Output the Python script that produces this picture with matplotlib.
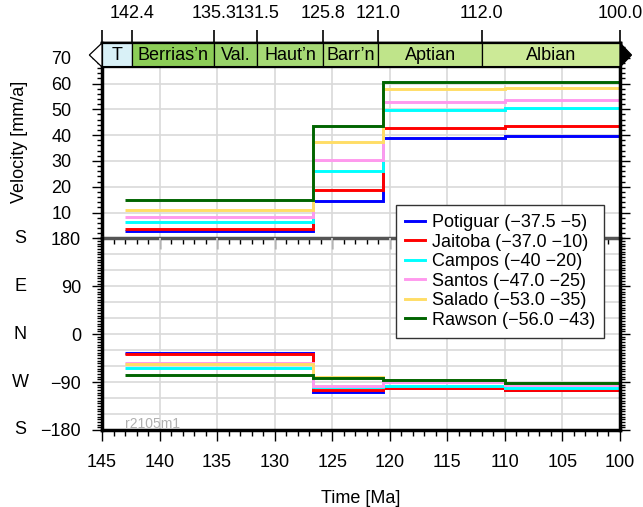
import matplotlib
matplotlib.use("Agg")
import matplotlib.pyplot as plt
from matplotlib.patches import Rectangle, Polygon
from matplotlib.lines import Line2D
from matplotlib.ticker import MultipleLocator
from matplotlib.transforms import blended_transform_factory

plt.rcParams['font.family'] = ['Liberation Sans', 'DejaVu Sans']
plt.rcParams['font.size'] = 13

# intervalos de tiempo (Ma) de cada tramo
times = [143.0, 126.7, 120.6, 110.0, 100.0]

basins = ['Potiguar (\u221237.5 \u22125)', 'Jaitoba (\u221237.0 \u221210)', 'Campos (\u221240 \u221220)',
          'Santos (\u221247.0 \u221225)', 'Salado (\u221253.0 \u221235)', 'Rawson (\u221256.0 \u221243)']
colors = ['#0000ff', '#ff0000', '#00ffff', '#ff99ee', '#ffdd66', '#006400']

# velocidad [mm/a] por tramo
vel_potiguar = [2.8, 14.5, 38.8, 39.5]
vel_jaitoba = [3.6, 18.7, 42.9, 43.4]
vel_campos = [6.3, 26.2, 49.8, 50.4]
vel_santos = [8.4, 30.2, 52.9, 53.5]
vel_salado = [10.9, 37.3, 57.9, 58.1]
vel_rawson = [14.7, 43.5, 60.5, 60.6]

# azimut [grados] por tramo
az_potiguar = [-36.0, -109.5, -102.0, -105.5]
az_jaitoba = [-36.5, -104.5, -102.0, -105.7]
az_campos = [-63.0, -98.5, -96.5, -100.5]
az_santos = [-55.0, -96.5, -90.7, -95.6]
az_salado = [-55.5, -80.0, -86.0, -91.0]
az_rawson = [-76.0, -83.0, -85.7, -90.8]

velocities = [vel_potiguar, vel_jaitoba, vel_campos, vel_santos, vel_salado, vel_rawson]
azimuths = [az_potiguar, az_jaitoba, az_campos, az_santos, az_salado, az_rawson]

# escala geologica
stage_bounds = [145.0, 142.4, 135.3, 131.5, 125.8, 121.0, 112.0, 100.0]
stage_names = ['T', 'Berrias\u2019n', 'Val.', 'Haut\u2019n', 'Barr\u2019n', 'Aptian', 'Albian']
stage_colors = ['#d9f1f7', '#8ccd57', '#99d36a', '#a6d975', '#b3df7f', '#bfe48a', '#ccea97']

fig = plt.figure(figsize=(6.43, 5.07), dpi=100)
W, H = 643, 507
left, right = 102 / W, 620 / W
ax1 = fig.add_axes([left, 1 - 238.3 / H, right - left, (238.3 - 43) / H])
ax2 = fig.add_axes([left, 1 - 430 / H, right - left, (430 - 238.3) / H])
ax2.patch.set_alpha(0)

grid_c = '#d9d9d9'
for ax in (ax1, ax2):
    ax.set_xlim(145, 100)
    ax.xaxis.set_major_locator(MultipleLocator(5))
    ax.xaxis.set_minor_locator(MultipleLocator(1))
    ax.grid(axis='x', color=grid_c, lw=1.2)
    ax.tick_params(which='both', direction='out', right=True, top=False, width=1)
    ax.tick_params(axis='x', which='major', length=8)
    ax.tick_params(axis='x', which='minor', length=4.5)
    ax.tick_params(axis='y', which='major', length=7)
    ax.tick_params(axis='y', which='minor', length=3.5)
    for s in ('left', 'right', 'bottom'):
        ax.spines[s].set_linewidth(2.5)
    ax.set_axisbelow(True)

# panel de velocidad
for vals, c in zip(velocities, colors):
    ax1.stairs(vals, times, color=c, lw=2.1, baseline=None)
ax1.set_ylim(0, 75.7)
ax1.yaxis.set_minor_locator(MultipleLocator(2))
ax1.set_yticks([10, 20, 30, 40, 50, 60, 70])
ax1.tick_params(axis='y', pad=15)
ax1.grid(axis='y', color=grid_c, lw=1.2)
ax1.tick_params(axis='x', labelbottom=False)
ax1.spines['bottom'].set_color('#555555')
ax1.spines['top'].set_linewidth(2.5)

# barra de edades
tr = blended_transform_factory(ax1.transData, ax1.transAxes)
y0 = (238.3 - 67) / (238.3 - 43)
for i, name in enumerate(stage_names):
    a, b = stage_bounds[i], stage_bounds[i + 1]
    ax1.add_patch(Rectangle((a, y0), b - a, 1 - y0, transform=tr, facecolor=stage_colors[i],
                            edgecolor='black', lw=0.9, zorder=5, clip_on=False))
    ax1.text((a + b) / 2, (y0 + 1) / 2, name, transform=tr, ha='center', va='center',
             fontsize=13, zorder=6)
ax1.plot([145, 100], [y0, y0], transform=tr, color='black', lw=1.5, zorder=6, clip_on=False)
ax1.add_patch(Polygon([[145, y0], [145, 1], [146.1, (y0 + 1) / 2]], closed=True, transform=tr,
                      facecolor='white', edgecolor='black', lw=0.9, zorder=6, clip_on=False))
ax1.add_patch(Polygon([[100, y0], [100, 1], [99.0, (y0 + 1) / 2]], closed=True, transform=tr,
                      facecolor='black', edgecolor='black', lw=0.9, zorder=6, clip_on=False))

sec = ax1.secondary_xaxis('top')
sec.set_xticks(stage_bounds, labels=[''] + ['%.1f' % b for b in stage_bounds[1:]])
sec.tick_params(direction='out', length=9.5, width=1.2, pad=5.5, labelsize=13)
sec.xaxis.set_minor_locator(plt.NullLocator())
sec.spines['top'].set_linewidth(2.5)

# panel de azimut
for vals, c in zip(azimuths, colors):
    ax2.stairs(vals, times, color=c, lw=2.1, baseline=None)
ax2.set_ylim(-180, 180)
ax2.set_yticks([-180, -90, 0, 90, 180])
ax2.yaxis.set_minor_locator(MultipleLocator(5))
ax2.tick_params(axis='y', pad=8)
for v in range(-150, 180, 30):
    ax2.axhline(v, color=grid_c, lw=1.2, zorder=0)
ax2.spines['top'].set_visible(False)
ax2.set_xlabel('Time [Ma]', labelpad=14)
ax2.tick_params(axis='x', pad=9)
ax2.text(0.044, -0.005, 'r2105m1', transform=ax2.transAxes, fontsize=10, color='#b0b0b0',
         ha='left', va='bottom')

trl = blended_transform_factory(fig.transFigure, ax2.transData)
for v, d in zip([180, 90, 0, -90, -180], ['S', 'E', 'N', 'W', 'S']):
    ax2.text(20 / W, v, d, transform=trl, ha='center', va='center', fontsize=13)

fig.text(20 / W, 1 - 141.5 / H, 'Velocity [mm/a]', rotation=90, ha='center', va='center', fontsize=13)

handles = [Line2D([], [], color=c, lw=2.1) for c in colors]
leg = fig.legend(handles, basins, loc='upper left', bbox_to_anchor=(396 / W, 1 - 205 / H),
                 borderaxespad=0, fancybox=False, framealpha=1, edgecolor='#333333', fontsize=13,
                 handlelength=1.1, handletextpad=0.4, labelspacing=0.14, borderpad=0.5)
leg.get_frame().set_linewidth(1.0)
leg.set_zorder(10)

fig.savefig('out.png', dpi=100)
